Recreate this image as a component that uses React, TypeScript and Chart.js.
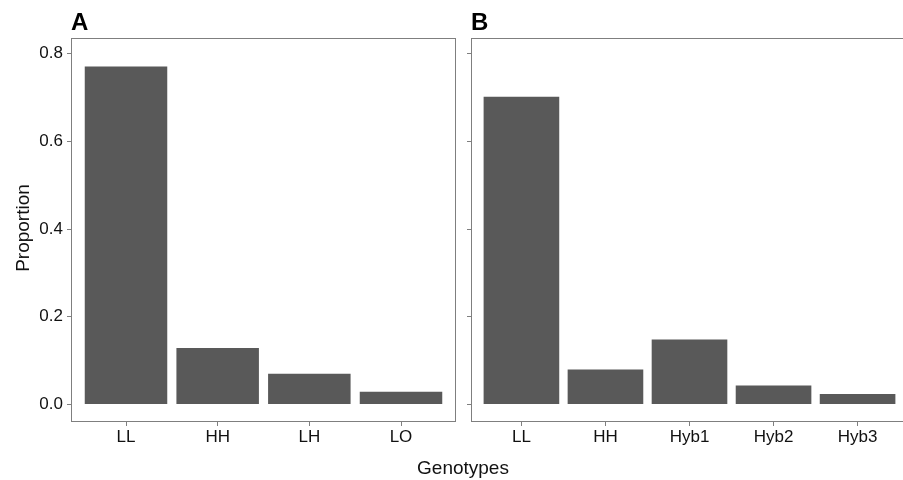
import React, { useEffect, useRef } from 'react';
import { Chart, registerables } from 'chart.js';

Chart.register(...registerables);

// ---- Data ----
const categoriesA: string[] = ['LL', 'HH', 'LH', 'LO'];
const valuesA: number[] = [0.771, 0.129, 0.07, 0.029];

const categoriesB: string[] = ['LL', 'HH', 'Hyb1', 'Hyb2', 'Hyb3'];
const valuesB: number[] = [0.702, 0.08, 0.148, 0.043, 0.024];

const yTicks: number[] = [0, 0.2, 0.4, 0.6, 0.8];

const panelTitles: string[] = ['A', 'B'];
const yTitle = 'Proportion';
const xTitle = 'Genotypes';

// ---- Styles ----
const FONT = '"Liberation Sans", Arial, Helvetica, sans-serif';
const BAR = '#595959';
const BORDER = '#7f7f7f';
const TEXT = '#111111';

const boxPlugin = {
  id: 'panelBox',
  afterDraw(chart: any) {
    const { ctx, chartArea: a } = chart;
    ctx.save();
    ctx.strokeStyle = BORDER;
    ctx.lineWidth = 1;
    const l = Math.round(a.left) + 0.5;
    const t = Math.round(a.top) + 0.5;
    const r = Math.round(a.right) - 0.5;
    const b = Math.round(a.bottom) - 0.5;
    ctx.strokeRect(l, t, r - l, b - t);
    ctx.restore();
  },
};

interface PanelProps {
  categories: string[];
  values: number[];
  left: number;
  width: number;
  yWidth: number;
  padRight: number;
  showYLabels: boolean;
}

function Panel({ categories, values, left, width, yWidth, padRight, showYLabels }: PanelProps) {
  const ref = useRef<HTMLCanvasElement | null>(null);
  useEffect(() => {
    if (!ref.current) return;
    const chart = new Chart(ref.current, {
      type: 'bar',
      data: {
        datasets: [
          {
            data: categories.map((c, i) => ({ x: i, y: values[i] })),
            backgroundColor: BAR,
            borderWidth: 0,
            barPercentage: 0.9,
            categoryPercentage: 1,
          } as any,
        ],
      },
      options: {
        responsive: false,
        animation: false,
        layout: { padding: { top: 38, right: padRight, left: 0, bottom: 0 } },
        plugins: { legend: { display: false }, tooltip: { enabled: false }, title: { display: false } },
        scales: {
          x: {
            type: 'linear',
            offset: false,
            min: -0.6,
            max: categories.length - 0.4,
            afterBuildTicks: (ax: any) => {
              ax.ticks = categories.map((_, i) => ({ value: i }));
            },
            afterFit: (s: any) => {
              s.height = 58;
            },
            ticks: {
              callback: (v: any) => categories[Math.round(Number(v))] ?? '',
              font: { family: FONT, size: 17 },
              color: TEXT,
              padding: 1,
              maxRotation: 0,
              autoSkip: false,
            },
            grid: { offset: false, drawOnChartArea: false, drawTicks: true, tickLength: 4, color: BORDER },
            border: { display: false },
          },
          y: {
            type: 'linear',
            min: -0.04,
            max: 0.836,
            afterBuildTicks: (ax: any) => {
              ax.ticks = yTicks.map((v) => ({ value: v }));
            },
            afterFit: (s: any) => {
              s.width = yWidth;
            },
            ticks: {
              callback: (v: any) => (showYLabels ? Number(v).toFixed(1) : ''),
              font: { family: FONT, size: 17 },
              color: TEXT,
              padding: 4,
            },
            grid: { drawOnChartArea: false, drawTicks: true, tickLength: 4, color: BORDER },
            border: { display: false },
          },
        },
      } as any,
      plugins: [boxPlugin],
    });
    return () => chart.destroy();
  }, []);
  return (
    <canvas
      ref={ref}
      width={width}
      height={480}
      style={{ position: 'absolute', left, top: 0, width, height: 480 }}
    />
  );
}

export default function App() {
  return (
    <div
      style={{
        position: 'absolute',
        left: 0,
        top: 0,
        width: 903,
        height: 480,
        overflow: 'hidden',
        background: '#fff',
        fontFamily: FONT,
      }}
    >
      <Panel categories={categoriesA} values={valuesA} left={0} width={460} yWidth={71} padRight={4} showYLabels={true} />
      <Panel categories={categoriesB} values={valuesB} left={460} width={448} yWidth={11} padRight={0} showYLabels={false} />
      <div style={{ position: 'absolute', left: 71, top: 10, fontSize: 24, lineHeight: '24px', fontWeight: 'bold', color: '#000' }}>
        {panelTitles[0]}
      </div>
      <div style={{ position: 'absolute', left: 471, top: 10, fontSize: 24, lineHeight: '24px', fontWeight: 'bold', color: '#000' }}>
        {panelTitles[1]}
      </div>
      <div
        style={{
          position: 'absolute',
          left: 23 - 100,
          top: 228 - 10,
          width: 200,
          height: 20,
          lineHeight: '20px',
          fontSize: 19,
          textAlign: 'center',
          color: TEXT,
          transform: 'rotate(-90deg)',
          transformOrigin: '50% 50%',
        }}
      >
        {yTitle}
      </div>
      <div
        style={{
          position: 'absolute',
          left: 363,
          top: 458,
          width: 200,
          fontSize: 19,
          lineHeight: '19px',
          textAlign: 'center',
          color: TEXT,
        }}
      >
        {xTitle}
      </div>
    </div>
  );
}
